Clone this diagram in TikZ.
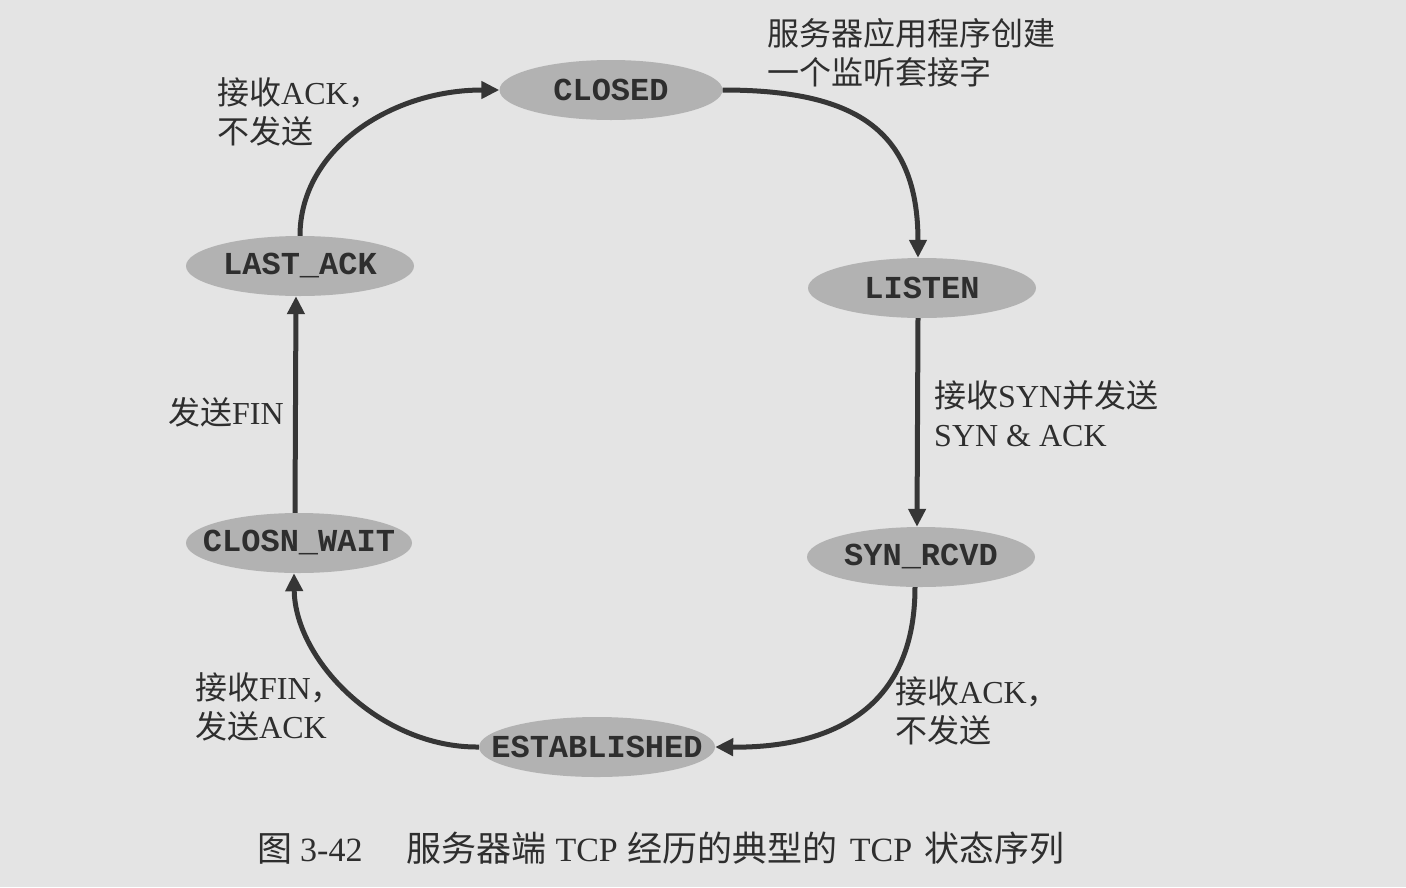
\documentclass[tikz,border=0pt]{standalone}
\usepackage{fontspec}
\setmainfont{Liberation Serif}
\newfontfamily\cjk{Noto Sans CJK SC}
\newfontfamily\statefont{Liberation Mono}
\usetikzlibrary{shapes.geometric,arrows.meta}
\definecolor{bg}{HTML}{E4E4E4}
\definecolor{efill}{HTML}{B2B2B2}
\definecolor{ink}{HTML}{2E2E2E}
\definecolor{arr}{HTML}{363636}
\tikzset{
  state/.style={ellipse, fill=efill, minimum width=228pt, minimum height=60pt,
    inner ysep=0pt, inner xsep=-60pt,
    text=ink, font=\statefont\bfseries\fontsize{32}{32}\selectfont},
  flow/.style={draw=arr, line width=5pt, -{Triangle[length=18pt,width=17pt]}},
  lbl/.style={anchor=north west, inner sep=0pt, align=left, text=ink,
    font=\fontsize{32}{39}\selectfont},
}
\begin{document}
\begin{tikzpicture}[x=1pt,y=-1pt]
\fill[bg] (0,0) rectangle (1406,887);
\useasboundingbox (0,0) rectangle (1406,887);

\node[state, minimum width=223pt] (closed) at (611,90) {CLOSED};
\node[state] (listen) at (922,288) {LISTEN};
\node[state] (synrcvd) at (921,557) {SYN\_RCVD};
\node[state, minimum width=236pt] (est) at (597,747) {ESTABLISHED};
\node[state, minimum width=226pt] (closnwait) at (299,543) {CLOSN\_WAIT};
\node[state] (lastack) at (300,266) {LAST\_ACK};

\draw[flow] (closed.east) .. controls (853,90) and (918,128) .. ([xshift=-4pt]listen.north);
\draw[flow] ([xshift=-4pt]listen.south) -- ([xshift=-4pt]synrcvd.north);
\draw[flow] ([xshift=-6pt]synrcvd.south) .. controls (915,710) and (830,748) .. (est.east);
\draw[flow] (est.west) .. controls (380,748) and (295,660) .. ([xshift=-5pt]closnwait.south);
\draw[flow] ([xshift=-4pt]closnwait.north) -- ([xshift=-4pt]lastack.south);
\draw[flow] (lastack.north) .. controls (300,150) and (390,90) .. (closed.west);

\node[lbl] (l1) at (767,18) {{\cjk 服务器应用程序创建}\\{\cjk 一个监听套接字}};
\node[lbl] (l2) at (217,77) {{\cjk 接收}ACK{\cjk ，}\\{\cjk 不发送}};
\node[lbl] (l3) at (934,380) {{\cjk 接收}SYN{\cjk 并发送}\\SYN \& ACK};
\node[lbl] (l4) at (168,397) {{\cjk 发送}FIN};
\node[lbl] (l5) at (195,672) {{\cjk 接收}FIN{\cjk ，}\\{\cjk 发送}ACK};
\node[lbl] (l6) at (895,676) {{\cjk 接收}ACK{\cjk ，}\\{\cjk 不发送}};

\node[anchor=west, inner sep=0pt, text=ink, font=\fontsize{34}{34}\selectfont] (cap) at (257,848)
  {{\cjk\fontsize{35}{35}\selectfont 图}\hspace{8pt}3-42\hspace{44pt}{\cjk\fontsize{35}{35}\selectfont 服务器端}\hspace{9pt}TCP\hspace{10pt}{\cjk\fontsize{35}{35}\selectfont 经历的典型的}\hspace{12pt}TCP\hspace{12pt}{\cjk\fontsize{35}{35}\selectfont 状态序列}};
\end{tikzpicture}
\end{document}
